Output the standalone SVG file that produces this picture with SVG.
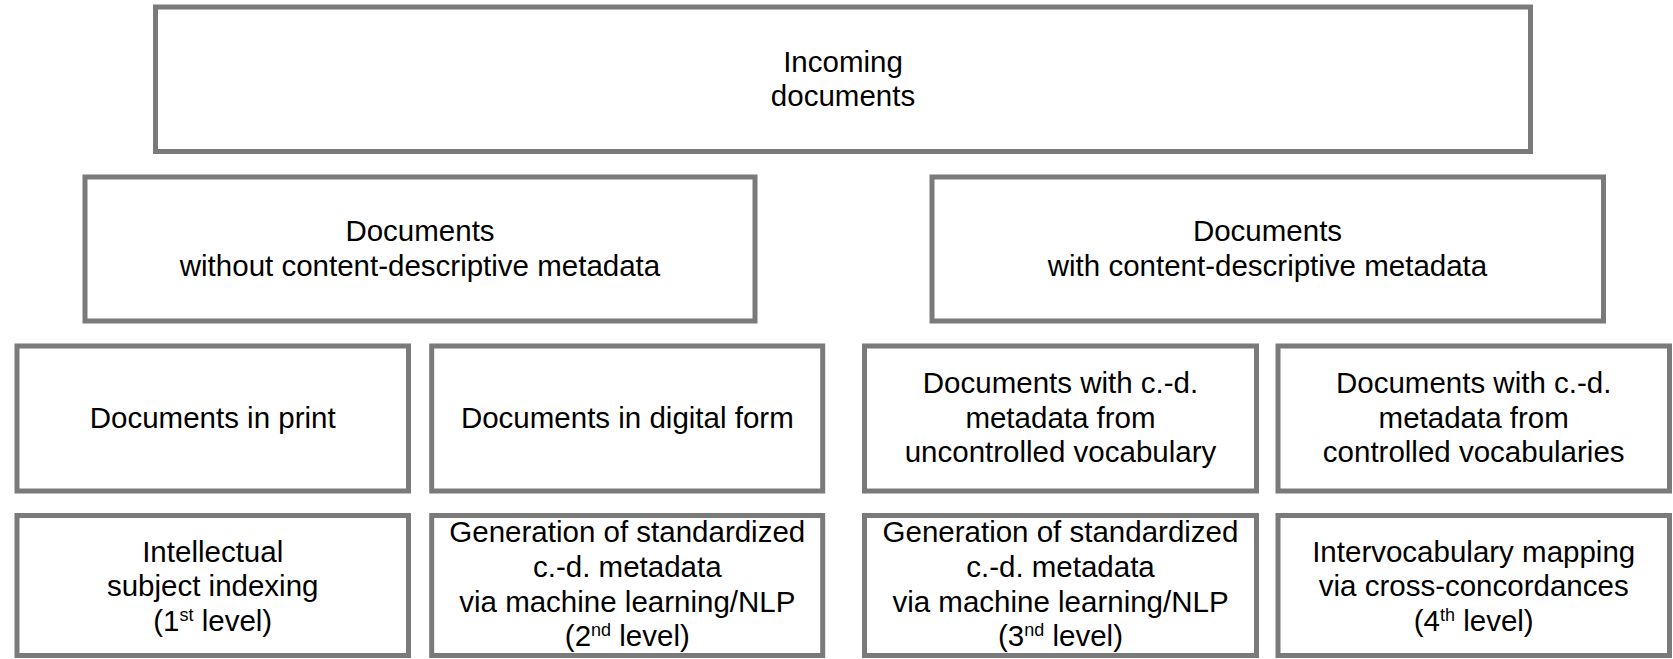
<svg xmlns="http://www.w3.org/2000/svg" width="1673" height="659" viewBox="0 0 1673 659">
<style>
.box{fill:#ffffff;stroke:#7a7a7a;stroke-width:5}
.t{font-family:"Liberation Sans",Arial,sans-serif;font-size:29.5px;fill:#000000;text-anchor:middle}
.sup{font-size:18px}
</style>
<rect x="0" y="0" width="1673" height="659" fill="#ffffff"/>
<g id="connectors"/>
<g id="incoming">
<rect class="box" x="155.5" y="7" width="1375" height="144.5"/>
<text class="t" x="843" y="71.5">Incoming</text>
<text class="t" x="843" y="105.5">documents</text>
</g>
<g id="without-metadata">
<rect class="box" x="85" y="177" width="670" height="144"/>
<text class="t" x="420" y="241">Documents</text>
<text class="t" x="420" y="276">without content-descriptive metadata</text>
</g>
<g id="with-metadata">
<rect class="box" x="932" y="177" width="671.5" height="144"/>
<text class="t" x="1267.5" y="241">Documents</text>
<text class="t" x="1267.5" y="276">with content-descriptive metadata</text>
</g>
<g id="print">
<rect class="box" x="17" y="346" width="391.5" height="145"/>
<text class="t" x="212.7" y="428">Documents in print</text>
</g>
<g id="digital">
<rect class="box" x="431.7" y="346" width="391" height="145"/>
<text class="t" x="627.3" y="428">Documents in digital form</text>
</g>
<g id="uncontrolled">
<rect class="box" x="864.5" y="346" width="392" height="145"/>
<text class="t" x="1060.5" y="393">Documents with c.-d.</text>
<text class="t" x="1060.5" y="427.5">metadata from</text>
<text class="t" x="1060.5" y="462">uncontrolled vocabulary</text>
</g>
<g id="controlled">
<rect class="box" x="1278" y="346" width="391.5" height="145"/>
<text class="t" x="1473.7" y="393">Documents with c.-d.</text>
<text class="t" x="1473.7" y="427.5">metadata from</text>
<text class="t" x="1473.7" y="462">controlled vocabularies</text>
</g>
<g id="level1">
<rect class="box" x="17" y="515.5" width="391.5" height="140"/>
<text class="t" x="212.7" y="561.7">Intellectual</text>
<text class="t" x="212.7" y="596.4">subject indexing</text>
<text class="t" x="212.7" y="631">(1<tspan class="sup" dy="-10">st</tspan><tspan dy="10"> level)</tspan></text>
</g>
<g id="level2">
<rect class="box" x="431.7" y="515.5" width="391" height="140"/>
<text class="t" x="627.3" y="541.5">Generation of standardized</text>
<text class="t" x="627.3" y="576.5">c.-d. metadata</text>
<text class="t" x="627.3" y="611.5">via machine learning/NLP</text>
<text class="t" x="627.3" y="646">(2<tspan class="sup" dy="-10">nd</tspan><tspan dy="10"> level)</tspan></text>
</g>
<g id="level3">
<rect class="box" x="864.5" y="515.5" width="392" height="140"/>
<text class="t" x="1060.5" y="541.5">Generation of standardized</text>
<text class="t" x="1060.5" y="576.5">c.-d. metadata</text>
<text class="t" x="1060.5" y="611.5">via machine learning/NLP</text>
<text class="t" x="1060.5" y="646">(3<tspan class="sup" dy="-10">nd</tspan><tspan dy="10"> level)</tspan></text>
</g>
<g id="level4">
<rect class="box" x="1278" y="515.5" width="391.5" height="140"/>
<text class="t" x="1473.7" y="561.7">Intervocabulary mapping</text>
<text class="t" x="1473.7" y="596.4">via cross-concordances</text>
<text class="t" x="1473.7" y="631">(4<tspan class="sup" dy="-10">th</tspan><tspan dy="10"> level)</tspan></text>
</g>
</svg>
